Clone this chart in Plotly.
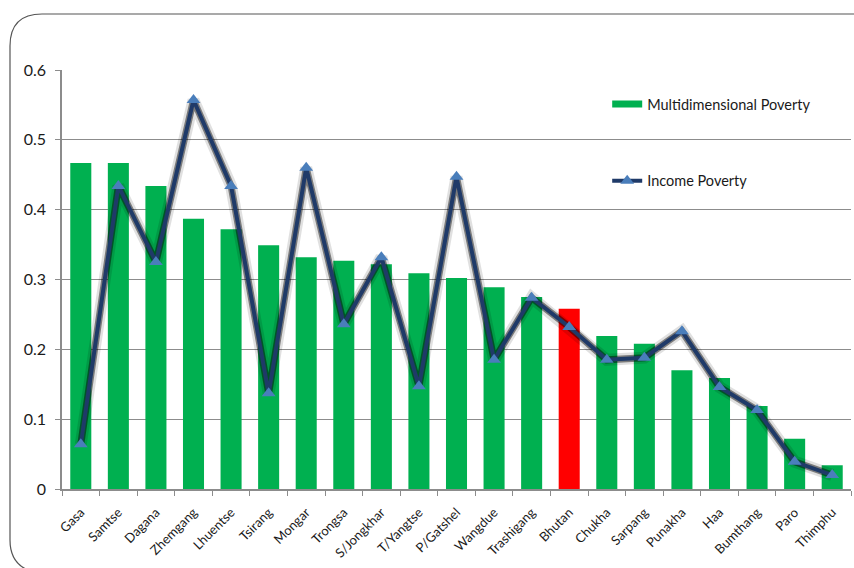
import plotly.graph_objects as go

districts = ["Gasa", "Samtse", "Dagana", "Zhemgang", "Lhuentse", "Tsirang", "Mongar",
             "Trongsa", "S/Jongkhar", "T/Yangtse", "P/Gatshel", "Wangdue", "Trashigang",
             "Bhutan", "Chukha", "Sarpang", "Punakha", "Haa", "Bumthang", "Paro", "Thimphu"]

multidimensional = [0.467, 0.467, 0.434, 0.387, 0.372, 0.349, 0.332, 0.327, 0.322, 0.309,
                    0.302, 0.289, 0.275, 0.258, 0.219, 0.208, 0.170, 0.159, 0.119, 0.072, 0.034]

income = [0.064, 0.434, 0.325, 0.557, 0.434, 0.137, 0.460, 0.236, 0.332, 0.147,
          0.447, 0.185, 0.274, 0.232, 0.185, 0.188, 0.226, 0.146, 0.113, 0.039, 0.020]

y_ticks = [0, 0.1, 0.2, 0.3, 0.4, 0.5, 0.6]

GREEN = "#00B050"
RED = "#FF0000"
NAVY = "#1F3A68"
MARKER = "#4A7EBB"

bar_colors = [RED if d == "Bhutan" else GREEN for d in districts]

fig = go.Figure()

fig.add_trace(go.Bar(
    x=districts, y=multidimensional, name="Multidimensional Poverty",
    marker=dict(color=bar_colors, line=dict(width=0)),
    width=0.56, showlegend=False,
))

# legend key for the bars: a flat wide swatch
fig.add_trace(go.Scatter(
    x=[None], y=[None], mode="lines", name="Multidimensional Poverty",
    line=dict(color=GREEN, width=7), legendgroup="a",
))

# soft drop shadow under the income line
fig.add_trace(go.Scatter(
    x=districts, y=income, mode="lines", showlegend=False, hoverinfo="skip",
    line=dict(color="rgba(0,0,0,0.12)", width=12),
))
fig.add_trace(go.Scatter(
    x=districts, y=income, mode="lines", showlegend=False, hoverinfo="skip",
    line=dict(color="rgba(0,0,0,0.45)", width=7),
))

fig.add_trace(go.Scatter(
    x=districts, y=income, mode="lines+markers", name="Income Poverty",
    line=dict(color=NAVY, width=4),
    marker=dict(symbol="triangle-up", size=12, color=MARKER, line=dict(width=0)),
    legendgroup="b",
))

# plot area geometry (pixels) used for the rounded frame
L, R, T, B = 62, 851, 70, 489
W, H = R - L, B - T

def px(x):
    return (x - L) / W

def py(y):
    return (B - y) / H

x0, y0, r = 10, 14, 32
frame = (f"M {px(x0 + 24)},{py(572)} "
         f"Q {px(x0)},{py(566)} {px(x0)},{py(540)} "
         f"L {px(x0)},{py(y0 + r)} "
         f"Q {px(x0)},{py(y0)} {px(x0 + r)},{py(y0)} "
         f"L {px(900)},{py(y0)}")

fig.add_shape(type="path", path=frame, xref="paper", yref="paper",
              line=dict(color="#555555", width=1.2), layer="above")

fig.update_layout(
    width=854, height=568,
    margin=dict(l=L, r=854 - R, t=T, b=568 - B),
    paper_bgcolor="white", plot_bgcolor="white",
    font=dict(family="Lato, Open Sans, sans-serif", color="#1a1a1a"),
    showlegend=True,
    legend=dict(
        x=0.691, y=0.957, xanchor="left", yanchor="top",
        bgcolor="rgba(0,0,0,0)", font=dict(size=14.5, color="#1a1a1a"),
        traceorder="grouped", tracegroupgap=55, itemwidth=30,
    ),
    xaxis=dict(
        type="category", tickangle=-45, tickfont=dict(size=13),
        showline=True, linecolor="#8c8c8c", linewidth=1.5,
        ticks="outside", tickson="boundaries", ticklen=5, tickcolor="#8c8c8c",
        ticklabelstandoff=9,
        showgrid=False, range=[-0.5, len(districts) - 0.5],
    ),
    yaxis=dict(
        range=[0, 0.6], tickvals=y_ticks, ticktext=[f"{v:g}" for v in y_ticks],
        tickfont=dict(size=16), ticklabelstandoff=6,
        showline=True, linecolor="#8c8c8c", linewidth=1.5,
        ticks="outside", ticklen=5, tickcolor="#8c8c8c",
        showgrid=True, gridcolor="#8c8c8c", gridwidth=1, zeroline=False,
    ),
)

fig.write_html("out.html")
